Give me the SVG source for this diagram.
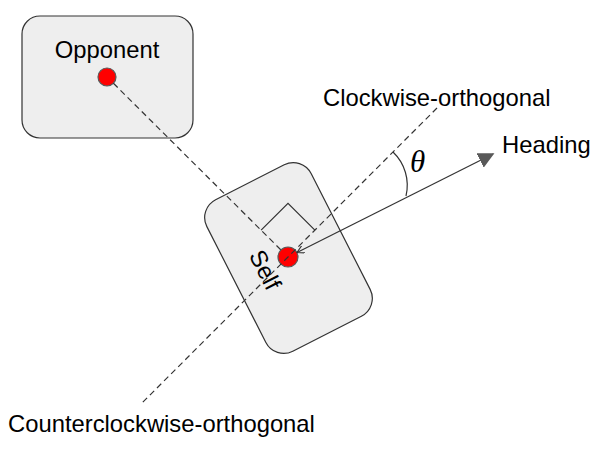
<svg xmlns="http://www.w3.org/2000/svg" width="600" height="454" viewBox="0 0 600 454">
<style>
.box{fill:#eeeeee;stroke:#333333;stroke-width:1.2}
.dot{fill:#ff0000;stroke:#595959;stroke-width:1.2}
.lbl{font-family:"Liberation Sans",Arial,sans-serif;font-size:23.8px;fill:#000000}
.dash{fill:none;stroke:#333333;stroke-width:1.2;stroke-dasharray:6 4}
.solid{fill:none;stroke:#333333;stroke-width:1.2}
</style>
<defs>
<marker id="tip" viewBox="0 0 10 10" refX="9" refY="5" markerWidth="16" markerHeight="16" markerUnits="userSpaceOnUse" orient="auto">
<path d="M0,0 L10,5 L0,10 Z" fill="#595959"/>
</marker>
<marker id="open" viewBox="0 0 10 10" refX="1" refY="5" markerWidth="8" markerHeight="8" markerUnits="userSpaceOnUse" orient="auto">
<path d="M10,0 L1,5 L10,10" fill="none" stroke="#333333" stroke-width="1.4"/>
</marker>
</defs>
<rect width="600" height="454" fill="#ffffff"/>
<g id="opponent">
<rect class="box" x="22" y="16" width="171" height="122" rx="18"/>
<text class="lbl" x="107" y="58" text-anchor="middle">Opponent</text>
<circle class="dot" cx="107" cy="77" r="9"/>
</g>
<g id="self">
<rect class="box" x="230" y="173" width="117" height="170" rx="20" transform="rotate(-27 288.5 258)"/>
<text class="lbl" transform="translate(265 270) rotate(63)" text-anchor="middle" dy="8">Self</text>
<circle class="dot" cx="288" cy="257" r="10"/>
</g>
<g id="connectors">
<line class="dash" x1="113.4" y1="83.3" x2="280.9" y2="249.9"/>
<line class="dash" x1="437" y1="108" x2="142" y2="403"/>
<polyline class="solid" points="261.1,230.1 288,203.3 314.9,230.1"/>
<line class="solid" x1="297" y1="252.5" x2="493" y2="154" marker-start="url(#open)" marker-end="url(#tip)"/>
<path class="solid" d="M393,152 A46,46 0 0 1 406,196"/>
<text x="410" y="172" font-family="'Liberation Serif','Times New Roman',serif" font-style="italic" font-size="31" fill="#000000">θ</text>
<text class="lbl" x="323" y="106">Clockwise-orthogonal</text>
<text class="lbl" x="502" y="153">Heading</text>
<text class="lbl" x="8" y="432">Counterclockwise-orthogonal</text>
</g>
</svg>
